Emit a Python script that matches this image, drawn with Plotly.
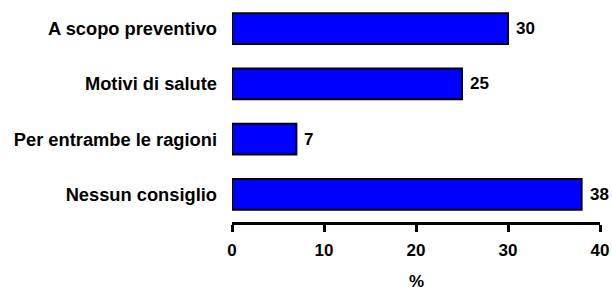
import plotly.graph_objects as go

categories = ["A scopo preventivo", "Motivi di salute", "Per entrambe le ragioni", "Nessun consiglio"]
values = [30, 25, 7, 38]
x_ticks = [0, 10, 20, 30, 40]
x_title = "%"

FONT = "Liberation Sans, Arial, sans-serif"

fig = go.Figure()
fig.add_trace(go.Bar(
    y=list(range(len(categories))),
    x=values,
    orientation="h",
    width=0.56,
    marker=dict(color="#0000FF", line=dict(color="black", width=2)),
    cliponaxis=False,
    hoverinfo="skip",
))

for i, v in enumerate(values):
    fig.add_annotation(
        x=v, y=i, xref="x", yref="y", text=str(v), showarrow=False,
        xanchor="left", yanchor="middle", xshift=6,
        font=dict(family=FONT, size=17, color="black", weight="bold"),
    )

# x-axis title placed below the tick labels
fig.add_annotation(
    x=0.5, y=0, xref="paper", yref="paper", text=x_title, showarrow=False,
    xanchor="center", yanchor="top", yshift=-48,
    font=dict(family=FONT, size=17, color="black", weight="bold"),
)

fig.update_layout(
    width=612, height=287,
    margin=dict(l=232, r=12, t=1, b=65, autoexpand=False),
    paper_bgcolor="white", plot_bgcolor="white",
    showlegend=False,
    font=dict(family=FONT, color="black"),
    xaxis=dict(
        range=[0, 40], tickvals=x_ticks, ticktext=[str(t) for t in x_ticks],
        showgrid=False, zeroline=False, automargin=False,
        showline=True, linecolor="black", linewidth=2.5,
        ticks="outside", ticklen=7, tickwidth=2.5, tickcolor="black",
        ticklabelstandoff=4,
        tickfont=dict(family=FONT, size=17, color="black", weight="bold"),
        fixedrange=True,
    ),
    yaxis=dict(
        range=[3.5, -0.5], automargin=False,
        tickvals=list(range(len(categories))), ticktext=categories,
        showgrid=False, zeroline=False, showline=False, ticks="",
        ticklabelstandoff=14,
        tickfont=dict(family=FONT, size=18.3, color="black", weight="bold"),
        fixedrange=True,
    ),
)

fig.write_html(
    "out.html",
    config={"displayModeBar": False},
    post_script="document.body.style.margin='0';document.body.style.overflow='hidden';",
)
